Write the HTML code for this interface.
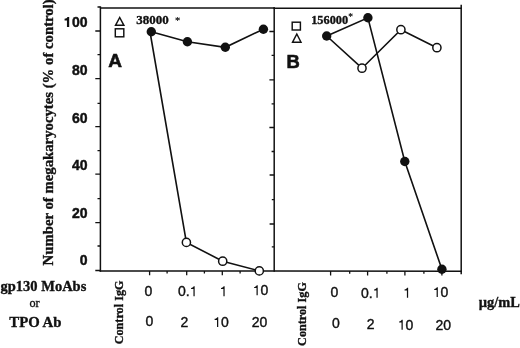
<!DOCTYPE html>
<html><head><meta charset="utf-8">
<style>
html,body{margin:0;padding:0;background:#fff;width:520px;height:348px;overflow:hidden}
svg{display:block;will-change:transform}
.sf{font-family:"Liberation Serif",serif;font-weight:bold}
.sr{font-family:"Liberation Serif",serif}
.ssb{font-family:"Liberation Sans",sans-serif;font-weight:bold}
.ss{font-family:"Liberation Sans",sans-serif}
</style></head><body>
<svg width="520" height="348" viewBox="0 0 520 348">
<rect id="bg" width="520" height="348" fill="#fff"/>
<g fill="#111" stroke="#111" stroke-width="0.35">
<text class="sf" font-size="14.75" transform="translate(52.6,265.4) rotate(-90)">Number of megakaryocytes (% of control)</text>
</g>
<g fill="#111" stroke="#111" stroke-width="0.45">
<path d="M200,0 L360,0 L360,710 L235,710 C210,640 140,596 30,588 L30,468 L200,468 Z" transform="translate(64.15,27) scale(0.0140,-0.0140)"/>
<text class="ssb" font-size="14" x="71.93" y="27">00</text>
<text class="ssb" font-size="14" x="71.93" y="74.5">80</text>
<text class="ssb" font-size="14" x="71.93" y="122.5">60</text>
<text class="ssb" font-size="14" x="71.93" y="169.5">40</text>
<text class="ssb" font-size="14" x="71.93" y="217.5">20</text>
<text class="ssb" font-size="14" x="79.72" y="264.7">0</text>
</g>
<g stroke="#111" stroke-width="1.5" fill="none" stroke-linecap="square">
<path d="M100.4 7 V271"/>
<path d="M101 8 H274"/>
<path d="M274.2 8.2 H461"/>
<path d="M274.2 8 V271"/>
<path d="M461.2 5.6 V273.5"/>
<path d="M100.4 271.1 H274.2 L461.2 271.3"/>
</g>
<g stroke="#111" stroke-width="1.3">
<path d="M95.3 31 H100 M97.5 54.6 H100 M95.3 78.6 H100 M97.5 103.4 H100 M95.3 126.6 H100 M97.5 150.6 H100 M95.3 174.2 H100 M97.5 198.6 H100 M95.3 222.6 H100 M97.5 246 H100 M95.3 270.5 H100 M97.5 7 H100"/>
<path d="M269.4 31.5 H274 M271.6 55.4 H274 M269.4 79.8 H274 M271.6 103.8 H274 M269.4 127.5 H274 M271.6 151.5 H274 M269.6 175 H274 M271.8 199.6 H274 M269.6 224 H274 M271.8 246.9 H274"/>
<path d="M149.6 271 V275.2 M167.1 271 V273.6 M186.7 271 V275.2 M204.4 271 V273.6 M222.3 271 V275.2 M240.1 271 V273.6 M259.3 271 V275.2"/>
<path d="M330.6 271 V275.4 M349.7 271 V273.8 M367.6 271 V275.4 M386.9 271 V273.8 M404.9 271 V275.4 M423.9 271 V273.8 M441.9 271 V275.4"/>
</g>
<g stroke="#111" stroke-width="1.6" fill="none">
<polyline points="151.3,31.7 187.4,41.7 225.3,47.3 263.4,29.2"/>
<polyline points="150.2,33 186.4,242.4 222.7,261.2 259.3,270.9"/>
<polyline points="326.7,36 367.9,17.8 404.8,161.5 441.9,269.3"/>
<polyline points="326.7,36 362,68.2 400.9,29.7 436.9,47.7"/>
</g>
<g fill="#fff" stroke="#111" stroke-width="1.5">
<circle cx="186.4" cy="242.4" r="4.1"/>
<circle cx="222.7" cy="261.2" r="4.1"/>
<circle cx="259.3" cy="270.9" r="4.1"/>
<circle cx="362" cy="68.2" r="4.1"/>
<circle cx="400.9" cy="29.7" r="4.1"/>
<circle cx="436.9" cy="47.7" r="4.1"/>
</g>
<g fill="#111">
<circle cx="151.3" cy="31.7" r="4.7"/>
<circle cx="187.4" cy="41.7" r="4.7"/>
<circle cx="225.3" cy="47.3" r="4.7"/>
<circle cx="263.4" cy="29.2" r="4.7"/>
<circle cx="326.7" cy="36" r="4.7"/>
<circle cx="367.9" cy="17.8" r="4.7"/>
<circle cx="404.8" cy="161.5" r="4.7"/>
<circle cx="441.9" cy="269.3" r="4.7"/>
</g>
<g fill="none" stroke="#111" stroke-width="1.45">
<path d="M115.5 25.3 L119.7 17.5 L123.9 25.3 Z"/>
<rect x="115.3" y="28.8" width="8.5" height="8"/>
<rect x="292.2" y="22.2" width="8.2" height="7.8"/>
<path d="M292.6 42.2 L296.8 34 L301 42.2 Z"/>
</g>
<g fill="#111" stroke="#111" stroke-width="0.35">
<text class="sf" font-size="13" x="136.3" y="24.1">38000</text>
<text class="sr" font-size="10.5" x="175.0" y="23.6" stroke-width="0.2">*</text>
<text class="sf" font-size="12.3" x="311.2" y="24">156000</text>
<text class="sr" font-size="9.5" x="348.3" y="20.2" stroke-width="0.2">*</text>
<text class="sf" font-size="14.5" x="0.5" y="291.3">gp130 MoAbs</text>
<text class="sr" font-size="12.2" x="29.5" y="306.7">or</text>
<text class="sf" font-size="14.8" x="9.3" y="327.2">TPO Ab</text>
<text class="sf" font-size="12.2" transform="translate(123.4,344.3) rotate(-90)">Control IgG</text>
<text class="sf" font-size="12.2" transform="translate(305.6,345.9) rotate(-90)">Control IgG</text>
<text class="sf" font-size="14.4" x="478.8" y="306.9">µg/mL</text>
</g>
<g fill="#111" stroke="#111" stroke-width="0.6">
<text class="ssb" font-size="19" x="108.3" y="67.2">A</text>
<text class="ssb" font-size="18.4" x="286.5" y="68.4">B</text>
</g>
<g fill="#111" stroke="#111" stroke-width="0.4">
<text class="ss" font-size="14" x="144.61" y="296">0</text>
<text class="ss" font-size="14" x="177.97" y="296.2">0.</text>
<path d="M271,0 L359,0 L359,703 L290,703 C272,640 205,592 101,586 L101,508 L271,508 Z" transform="translate(189.65,296.2) scale(0.0140,-0.0140)"/>
<path d="M271,0 L359,0 L359,703 L290,703 C272,640 205,592 101,586 L101,508 L271,508 Z" transform="translate(219.61,296.2) scale(0.0140,-0.0140)"/>
<path d="M271,0 L359,0 L359,703 L290,703 C272,640 205,592 101,586 L101,508 L271,508 Z" transform="translate(252.72,295.2) scale(0.0140,-0.0140)"/>
<text class="ss" font-size="14" x="260.50" y="295.2">0</text>
<text class="ss" font-size="14" x="145.61" y="326">0</text>
<text class="ss" font-size="14" x="180.51" y="327.2">2</text>
<path d="M271,0 L359,0 L359,703 L290,703 C272,640 205,592 101,586 L101,508 L271,508 Z" transform="translate(213.22,327) scale(0.0140,-0.0140)"/>
<text class="ss" font-size="14" x="221.00" y="327">0</text>
<text class="ss" font-size="14" x="251.72" y="327">20</text>
<text class="ss" font-size="14" x="330.61" y="297.1">0</text>
<text class="ss" font-size="14" x="360.97" y="297.7">0.</text>
<path d="M271,0 L359,0 L359,703 L290,703 C272,640 205,592 101,586 L101,508 L271,508 Z" transform="translate(372.65,297.7) scale(0.0140,-0.0140)"/>
<path d="M271,0 L359,0 L359,703 L290,703 C272,640 205,592 101,586 L101,508 L271,508 Z" transform="translate(403.11,297.7) scale(0.0140,-0.0140)"/>
<path d="M271,0 L359,0 L359,703 L290,703 C272,640 205,592 101,586 L101,508 L271,508 Z" transform="translate(432.82,297.1) scale(0.0140,-0.0140)"/>
<text class="ss" font-size="14" x="440.60" y="297.1">0</text>
<text class="ss" font-size="14" x="332.11" y="328.4">0</text>
<text class="ss" font-size="14" x="366.81" y="329.3">2</text>
<path d="M271,0 L359,0 L359,703 L290,703 C272,640 205,592 101,586 L101,508 L271,508 Z" transform="translate(397.72,329.7) scale(0.0140,-0.0140)"/>
<text class="ss" font-size="14" x="405.50" y="329.7">0</text>
<text class="ss" font-size="14" x="435.42" y="329.7">20</text>
</g>
</svg>
</body></html>
